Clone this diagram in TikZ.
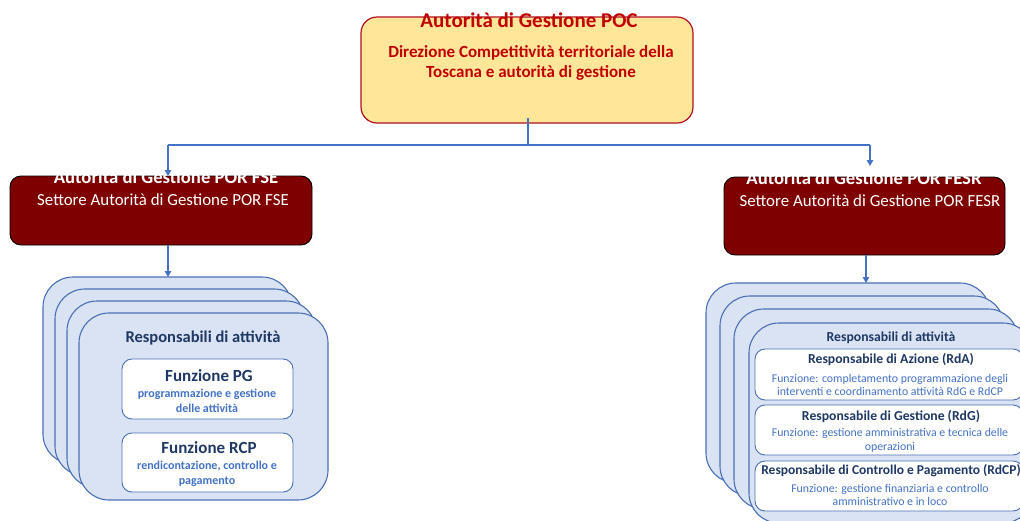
\documentclass[tikz,border=0pt]{standalone}
\usepackage{fontspec}
\setmainfont{Carlito}
\usetikzlibrary{arrows.meta,calc}
\definecolor{pocred}{HTML}{C00000}
\definecolor{pocedge}{HTML}{B01020}
\definecolor{pocfill}{HTML}{FFE699}
\definecolor{darkred}{HTML}{7F0000}
\definecolor{lineblue}{HTML}{4472C4}
\definecolor{stackfill}{HTML}{DAE3F3}
\definecolor{stackedge}{HTML}{4A6FB5}
\definecolor{navy}{HTML}{1F3864}
\definecolor{subblue}{HTML}{4472C4}
\newcommand\myfs[2]{\fontsize{#1}{#2}\selectfont}
\begin{document}
\begin{tikzpicture}[x=1pt,y=-1pt,
  box/.style={inner sep=0pt,outer sep=0pt,anchor=north west},
  pocbox/.style={box,draw=pocedge,fill=pocfill,line width=1.2pt,rounded corners=16pt},
  agbox/.style={box,draw=black,fill=darkred,line width=0.9pt,rounded corners=11pt},
  stackbox/.style={box,draw=stackedge,fill=stackfill,line width=1.1pt,rounded corners=30pt},
  funbox/.style={box,draw=stackedge,fill=white,line width=0.9pt,rounded corners=10pt},
  txt/.style={inner sep=0pt,align=center},
  conn/.style={draw=lineblue,line width=1.1pt},
  arr/.style={conn,-{Triangle[length=6pt,width=6.5pt]}}
]
\useasboundingbox (0,0) rectangle (1020,520);
\clip (0,0) rectangle (1020,520);

% top box
\node[pocbox,minimum width=332pt,minimum height=106pt] (poc) at (361,17) {};
\node[txt,text=pocred,font=\bfseries\myfs{21}{22}] (poct) at (529,20) {Autorità di Gestione POC};
\node[txt,text=pocred,font=\bfseries\myfs{17}{20.5}] (pocs) at (531,63) {Direzione Competitività territoriale della\\Toscana e autorità di gestione};

% AG boxes
\node[agbox,minimum width=302pt,minimum height=69pt] (fse) at (10,176) {};
\node[txt,text=white,font=\bfseries\myfs{18.7}{20}] (fset) at (166,177) {Autorità di Gestione POR FSE};
\node[txt,text=white,font=\myfs{16.9}{18}] (fses) at (163,200) {Settore Autorità di Gestione POR FSE};

\node[agbox,minimum width=281pt,minimum height=78pt] (fesr) at (724,177) {};
\node[txt,text=white,font=\bfseries\myfs{18.7}{20}] (fesrt) at (864,178) {Autorità di Gestione POR FESR};
\node[txt,text=white,font=\myfs{16.9}{18}] (fesrs) at (870,201) {Settore Autorità di Gestione POR FESR};

% connectors from top
\coordinate (split) at (528,145);
\coordinate (lefttop) at (168,176);
\coordinate (righttop) at (870,166);
\draw[draw=lineblue,line width=2.6pt] (528,118) -- (split);
\draw[arr] (lefttop |- split) -- (lefttop);
\draw[arr] (righttop |- split) -- (righttop);
\draw[conn] (lefttop |- split) -- (righttop |- split);

% left stack
\node[stackbox,minimum width=249pt,minimum height=187pt] (l1) at (43,277) {};
\node[stackbox,minimum width=249pt,minimum height=187pt] (l2) at (55,289) {};
\node[stackbox,minimum width=249pt,minimum height=187pt] (l3) at (67,301) {};
\node[stackbox,minimum width=249pt,minimum height=187pt] (l4) at (79,313) {};
\node[txt,text=navy,font=\bfseries\myfs{16.5}{18}] (lresp) at (203,338) {Responsabili di attività};
\node[funbox,minimum width=171pt,minimum height=60pt] (pg) at (122,359) {};
\node[txt,text=navy,font=\bfseries\myfs{17}{19}] (pgt) at (209,376) {Funzione PG};
\node[txt,text=subblue,font=\bfseries\myfs{12}{14.5}] (pgs) at (207,401) {programmazione e gestione\\delle attività};
\node[funbox,minimum width=171pt,minimum height=59pt] (rcp) at (122,433) {};
\node[txt,text=navy,font=\bfseries\myfs{17}{19}] (rcpt) at (209,448) {Funzione RCP};
\node[txt,text=subblue,font=\bfseries\myfs{12}{15}] (rcps) at (207,473.5) {rendicontazione, controllo e\\pagamento};

% right stack
\node[stackbox,minimum width=284pt,minimum height=200pt] (r1) at (706,283) {};
\node[stackbox,minimum width=284pt,minimum height=200pt] (r2) at (720,296) {};
\node[stackbox,minimum width=284pt,minimum height=200pt] (r3) at (734,309) {};
\node[stackbox,minimum width=284pt,minimum height=200pt] (r4) at (749,323) {};
\node[txt,text=navy,font=\bfseries\myfs{13.7}{15}] (rresp) at (891,338) {Responsabili di attività};

\node[funbox,minimum width=268pt,minimum height=51pt] (rda) at (755,349) {};
\node[txt,text=navy,font=\bfseries\myfs{13.7}{15}] (rdat) at (891,359) {Responsabile di Azione (RdA)};
\node[txt,text=subblue,font=\myfs{11.8}{13}] (rdas) at (890,384.5) {Funzione: completamento programmazione degli\\interventi e coordinamento attività RdG e RdCP};

\node[funbox,minimum width=268pt,minimum height=50pt] (rdg) at (755,405) {};
\node[txt,text=navy,font=\bfseries\myfs{13.7}{15}] (rdgt) at (891,416) {Responsabile di Gestione (RdG)};
\node[txt,text=subblue,font=\myfs{11.8}{14}] (rdgs) at (890,440) {Funzione: gestione amministrativa e tecnica delle\\operazioni};

\node[funbox,minimum width=268pt,minimum height=50pt] (rdcp) at (755,461) {};
\node[txt,text=navy,font=\bfseries\myfs{13.5}{15}] (rdcpt) at (891,471) {Responsabile di Controllo e Pagamento (RdCP)};
\node[txt,text=subblue,font=\myfs{11.8}{13}] (rdcps) at (890,494.5) {Funzione: gestione finanziaria e controllo\\amministrativo e in loco};

% connectors to stacks
\draw[arr] (fse.south -| lefttop) -- (l1.north -| lefttop);
\coordinate (rx) at (866,0);
\draw[arr] (fesr.south -| rx) -- (r1.north -| rx);
\end{tikzpicture}
\end{document}
